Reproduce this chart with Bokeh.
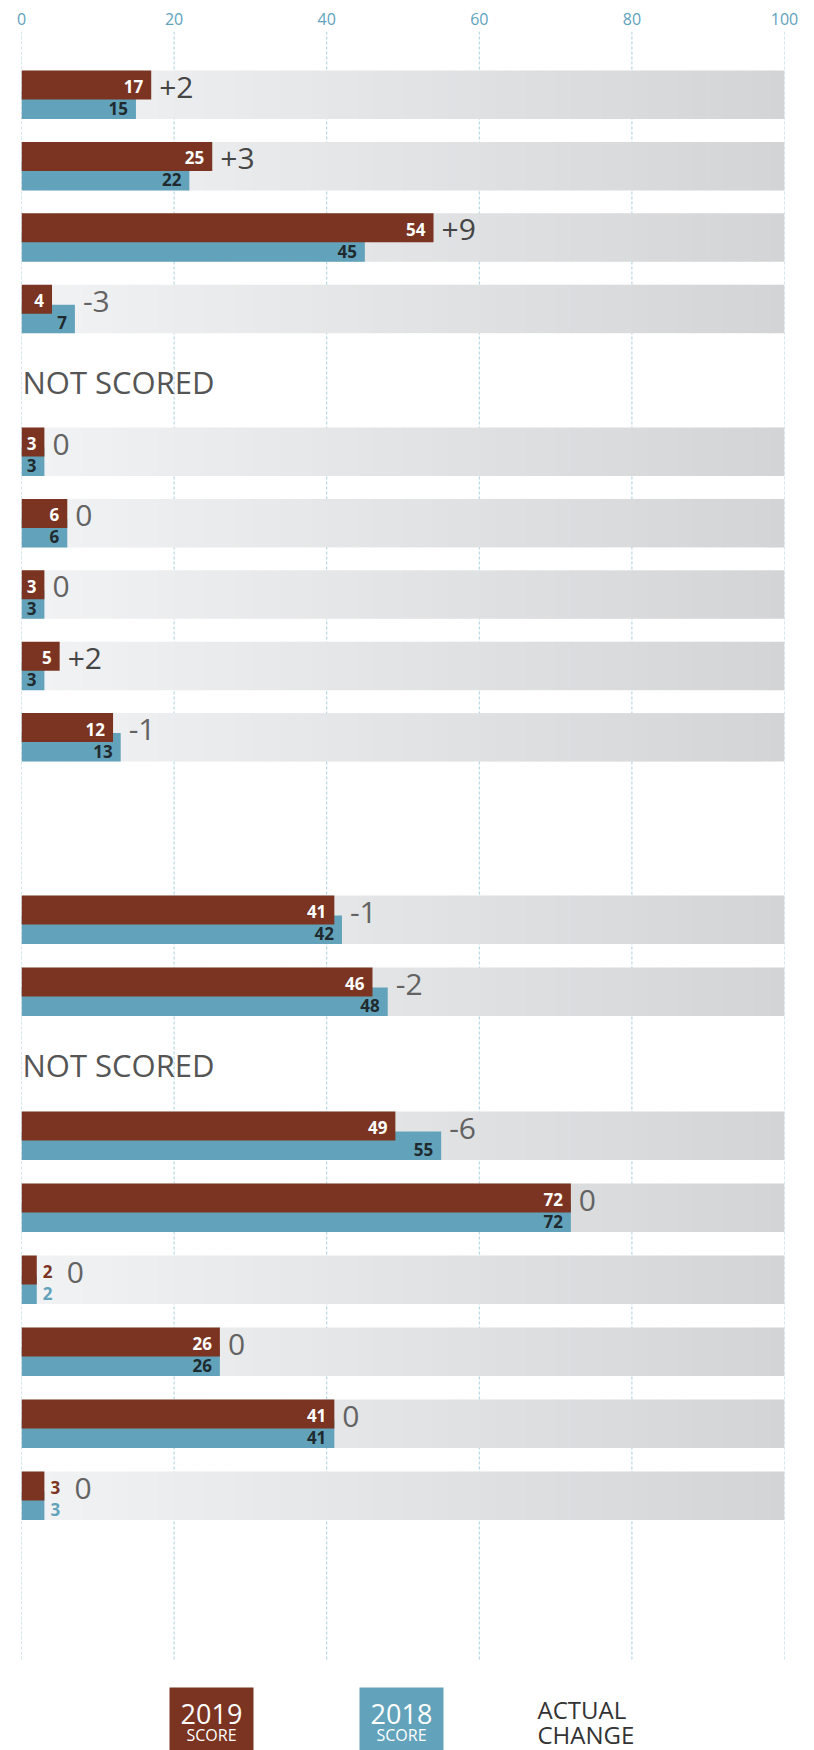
from bokeh.plotting import figure
from bokeh.models import Range1d, FixedTicker, ColumnDataSource
from bokeh.core.properties import value
from bokeh.embed import file_html
from bokeh.resources import INLINE

# ---------------- data ----------------
tick_values = [0, 20, 40, 60, 80, 100]

sec1_2019 = [17, 25, 54, 4, None, 3, 6, 3, 5, 12]
sec1_2018 = [15, 22, 45, 7, None, 3, 6, 3, 3, 13]
sec1_change = ["+2", "+3", "+9", "-3", None, "0", "0", "0", "+2", "-1"]
sec1_outside = [False, False, False, False, False, False, False, False, False, False]

sec2_2019 = [41, 46, None, 49, 72, 2, 26, 41, 3]
sec2_2018 = [42, 48, None, 55, 72, 2, 26, 41, 3]
sec2_change = ["-1", "-2", None, "-6", "0", "0", "0", "0", "0"]
sec2_outside = [False, False, False, False, False, True, False, False, True]

not_scored_text = "NOT SCORED"
legend_years = ["2019", "2018"]
legend_sub = "SCORE"
legend_change = ["ACTUAL", "CHANGE"]

# ---------------- style ----------------
RED = "#7a3421"
BLUE = "#62a3bb"
GRID = "#a9cfe0"
AXIS_TXT = "#5ea2bd"
FONT = "Open Sans"

W, H = 814, 1750
TOP_BORDER = 31
FRAME_H = H - TOP_BORDER
LEFT_PX, RIGHT_PX = 21, 784

def px2x(px_screen):
    return (px_screen - LEFT_PX) * 100.0 / (RIGHT_PX - LEFT_PX)

sections = [
    (sec1_2019, sec1_2018, sec1_change, sec1_outside, 39.0, 71.4),
    (sec2_2019, sec2_2018, sec2_change, sec2_outside, 864.0, 72.0),
]

BAR_H = 48.5
RED_H = 29.0
BLUE_OFF = 20.0

p = figure(width=W, height=H, x_range=Range1d(0, 100), y_range=Range1d(FRAME_H, 0),
           output_backend="svg", toolbar_location=None,
           x_axis_location="above", y_axis_location=None,
           min_border_left=LEFT_PX, min_border_right=W - RIGHT_PX,
           min_border_top=TOP_BORDER, min_border_bottom=0)
p.outline_line_color = None
p.xgrid.visible = False
p.ygrid.visible = False
p.background_fill_color = "white"
p.border_fill_color = "white"

ax = p.xaxis[0]
ax.ticker = FixedTicker(ticks=tick_values)
ax.axis_line_color = None
ax.major_tick_line_color = None
ax.minor_tick_line_color = None
ax.major_tick_out = 0
ax.major_tick_in = 0
ax.major_label_standoff = 7
ax.major_label_text_font = FONT
ax.major_label_text_font_size = "16px"
ax.major_label_text_color = AXIS_TXT

# grid lines
p.segment(x0=tick_values, y0=[0] * len(tick_values), x1=tick_values,
          y1=[1629] * len(tick_values), line_color=GRID, line_width=1, line_dash="3 2")

# build rows
bg = dict(left=[], right=[], top=[], bottom=[], color=[])
red = dict(right=[], top=[], bottom=[])
blue = dict(right=[], top=[], bottom=[])
lab_in19 = dict(x=[], y=[], t=[])
lab_in18 = dict(x=[], y=[], t=[])
lab_out19 = dict(x=[], y=[], t=[])
lab_out18 = dict(x=[], y=[], t=[])
chg = dict(x=[], y=[], t=[], off=[], c=[])
ns = dict(x=[], y=[], t=[])

c0 = (242, 243, 244)
c1 = (211, 212, 214)
NSL = 50
for v19s, v18s, chs, outs, start, pitch in sections:
    for i, (a, b, ch, out) in enumerate(zip(v19s, v18s, chs, outs)):
        top = start + pitch * i
        if a is None:
            ns["x"].append(0); ns["y"].append(top + 25.5); ns["t"].append(not_scored_text)
            continue
        for k in range(NSL):
            f = (k + 0.5) / NSL
            col = tuple(int(round(c0[j] + (c1[j] - c0[j]) * f)) for j in range(3))
            bg["left"].append(100 * k / NSL)
            bg["right"].append(min(100, 100 * (k + 1) / NSL + 0.08))
            bg["top"].append(top)
            bg["bottom"].append(top + BAR_H)
            bg["color"].append("#%02x%02x%02x" % col)
        red["right"].append(a); red["top"].append(top); red["bottom"].append(top + RED_H)
        blue["right"].append(b); blue["top"].append(top + BLUE_OFF); blue["bottom"].append(top + BAR_H)
        if out:
            lab_out19["x"].append(a); lab_out19["y"].append(top + 16); lab_out19["t"].append(str(a))
            lab_out18["x"].append(b); lab_out18["y"].append(top + 38); lab_out18["t"].append(str(b))
        else:
            lab_in19["x"].append(a); lab_in19["y"].append(top + 16); lab_in19["t"].append(str(a))
            lab_in18["x"].append(b); lab_in18["y"].append(top + 38); lab_in18["t"].append(str(b))
        chg["x"].append(max(a, b)); chg["y"].append(top + 16.5); chg["t"].append(ch)
        chg["off"].append(30 if out else 8)
        chg["c"].append("#454545" if ch.startswith("+") else "#636363")

p.quad(left="left", right="right", top="top", bottom="bottom", fill_color="color",
       line_color=None, source=ColumnDataSource(bg))
p.quad(left=0, right="right", top="top", bottom="bottom", fill_color=BLUE, line_color=None,
       source=ColumnDataSource(blue))
p.quad(left=0, right="right", top="top", bottom="bottom", fill_color=RED, line_color=None,
       source=ColumnDataSource(red))

common = dict(text_baseline="middle", text_font=value(FONT))
p.text(x="x", y="y", text="t", source=ColumnDataSource(lab_in19), text_align="right",
       x_offset=-8, text_color="white", text_font_size="17px", text_font_style="bold", **common)
p.text(x="x", y="y", text="t", source=ColumnDataSource(lab_in18), text_align="right",
       x_offset=-8, text_color="#1f2a2e", text_font_size="17px", text_font_style="bold", **common)
p.text(x="x", y="y", text="t", source=ColumnDataSource(lab_out19), text_align="left",
       x_offset=6, text_color=RED, text_font_size="17px", text_font_style="bold", **common)
p.text(x="x", y="y", text="t", source=ColumnDataSource(lab_out18), text_align="left",
       x_offset=6, text_color=BLUE, text_font_size="17px", text_font_style="bold", **common)
p.text(x="x", y="y", text="t", x_offset="off", text_color="c", source=ColumnDataSource(chg),
       text_align="left", text_font_size="30px", **common)
p.text(x="x", y="y", text="t", source=ColumnDataSource(ns), text_align="left",
       text_color="#555555", text_font_size="31px", x_offset=1, **common)

# ---------------- legend ----------------
box_left_px = [169, 359]
box_w_px = 84
leg_top = 1656
for yr, lx, col in zip(legend_years, box_left_px, [RED, BLUE]):
    l = px2x(lx); r = px2x(lx + box_w_px); cx = (l + r) / 2
    p.quad(left=[l], right=[r], top=[leg_top], bottom=[FRAME_H + 5], fill_color=col, line_color=None)
    p.text(x=[cx], y=[leg_top + 26], text=[yr], text_align="center", text_color="white",
           text_font_size="27px", **common)
    p.text(x=[cx], y=[leg_top + 47], text=[legend_sub], text_align="center",
           text_color="white", text_font_size="16px", **common)
p.text(x=[px2x(537)] * 2, y=[leg_top + 22, leg_top + 47], text=legend_change, text_align="left",
       text_color="#333333", text_font_size="24px", **common)

open("out.html", "w").write(file_html(p, INLINE))
